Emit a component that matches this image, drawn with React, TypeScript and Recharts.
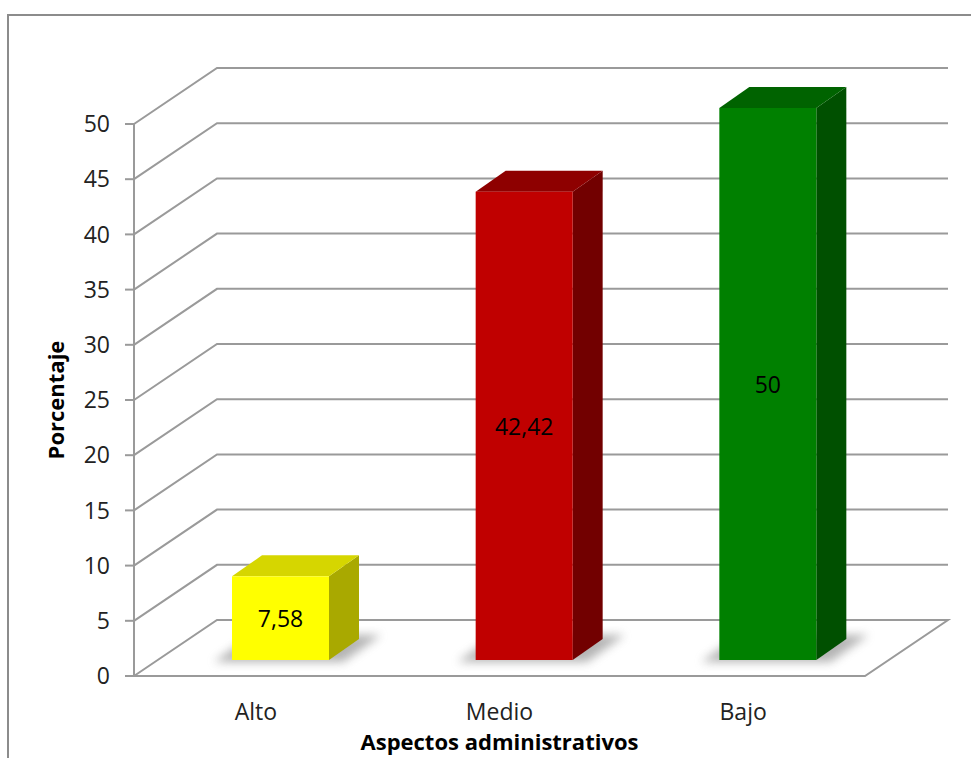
import { Bar, BarChart, CartesianGrid, Cell, LabelList, XAxis, YAxis } from "recharts";

const categories = ["Alto", "Medio", "Bajo"];
const values = [7.58, 42.42, 50];
const yTicks = [0, 5, 10, 15, 20, 25, 30, 35, 40, 45, 50];

const FRONT = ["#ffff00", "#c00000", "#008000"];
const TOP = ["#d6d600", "#8e0000", "#006300"];
const SIDE = ["#a9a900", "#720000", "#005000"];

const FONT = "'Open Sans', sans-serif";
const GRID = "#9a9a9a";
// depth of the 3D box, and where the bars sit inside it
const WALL_DX = 83;
const WALL_DY = -56;
const BAR_DX = 25;
const BAR_DY = -16;
const DEPTH_DX = 30;
const DEPTH_DY = -21;

const data = categories.map((name, i) => ({ name, value: values[i] }));

function fmt(v: number) {
  return String(v).replace(".", ",");
}

function Bar3D(props: any) {
  const { x, y, width, height, index } = props;
  const fx = x + BAR_DX;
  const fy = y + BAR_DY;
  const bottom = fy + height;
  const right = fx + width;
  return (
    <g>
      <polygon
        points={`${fx - 18},${bottom + 2} ${right + 14},${bottom + 2} ${right + DEPTH_DX + 22},${bottom + DEPTH_DY - 4} ${fx + DEPTH_DX - 10},${bottom + DEPTH_DY - 4}`}
        fill="#777"
        opacity={0.55}
        filter="url(#barShadow)"
      />
      <polygon
        points={`${right},${fy} ${right + DEPTH_DX},${fy + DEPTH_DY} ${right + DEPTH_DX},${bottom + DEPTH_DY} ${right},${bottom}`}
        fill={SIDE[index]}
      />
      <polygon
        points={`${fx},${fy} ${fx + DEPTH_DX},${fy + DEPTH_DY} ${right + DEPTH_DX},${fy + DEPTH_DY} ${right},${fy}`}
        fill={TOP[index]}
      />
      <rect x={fx} y={fy} width={width} height={height} fill={FRONT[index]} />
    </g>
  );
}

function GridLine3D(props: any) {
  const { x1, x2, y1, index } = props;
  const back = y1 + WALL_DY;
  if (index === 0) {
    // floor
    return (
      <path
        d={`M${x1},${y1} L${x1 + WALL_DX},${back} L${x2 + WALL_DX},${back} L${x2},${y1} Z`}
        fill="none"
        stroke={GRID}
        strokeWidth={2}
      />
    );
  }
  return (
    <path
      d={`M${x1},${y1} L${x1 + WALL_DX},${back} L${x2 + WALL_DX},${back}`}
      fill="none"
      stroke={GRID}
      strokeWidth={2}
    />
  );
}

function ValueLabel(props: any) {
  const { x, y, width, height, value } = props;
  return (
    <text
      x={x + BAR_DX + width / 2}
      y={y + BAR_DY + height / 2}
      textAnchor="middle"
      dominantBaseline="central"
      fontFamily={FONT}
      fontSize={23}
      fill="#000"
    >
      {fmt(value)}
    </text>
  );
}

export default function App() {
  return (
    <div style={{ position: "fixed", left: 0, top: 0, width: 971, height: 758, overflow: "hidden", background: "#fff" }}>
      <div
        style={{
          position: "absolute",
          left: 7,
          top: 14,
          width: 1000,
          height: 800,
          border: "2px solid #8c8c8c",
        }}
      />
      <div style={{ position: "absolute", left: 0, top: 0 }}>
        <BarChart
          width={971}
          height={758}
          data={data}
          margin={{ top: 124, right: 106, bottom: 42, left: 74 }}
          barSize={97}
        >
          <defs>
            <filter id="barShadow" x="-30%" y="-100%" width="160%" height="300%">
              <feGaussianBlur stdDeviation="5" />
            </filter>
          </defs>
          <CartesianGrid vertical={false} horizontal={(p: any) => <GridLine3D key={p.key} {...p} />} />
          <XAxis
            dataKey="name"
            height={40}
            tickLine={false}
            axisLine={false}
            tickMargin={22}
            tick={{ fontFamily: FONT, fontSize: 23, fill: "#222" }}
            label={{
              content: ({ viewBox }: any) => (
                <text
                  x={viewBox.x + viewBox.width / 2}
                  y={viewBox.y + 74}
                  textAnchor="middle"
                  fontFamily={FONT}
                  fontSize={22}
                  fontWeight="bold"
                  fill="#000"
                >
                  Aspectos administrativos
                </text>
              ),
            }}
          />
          <YAxis
            width={60}
            domain={[0, 50]}
            ticks={yTicks}
            interval={0}
            tickSize={9}
            tickMargin={15}
            axisLine={{ stroke: GRID, strokeWidth: 2 }}
            tickLine={{ stroke: GRID, strokeWidth: 2 }}
            tick={{ fontFamily: FONT, fontSize: 23, fill: "#222" }}
            label={{
              content: ({ viewBox }: any) => {
                const cx = viewBox.x - 19;
                const cy = viewBox.y + viewBox.height / 2;
                return (
                  <text
                    x={cx}
                    y={cy}
                    transform={`rotate(-90 ${cx} ${cy})`}
                    textAnchor="middle"
                    dominantBaseline="central"
                    fontFamily={FONT}
                    fontSize={22}
                    fontWeight="bold"
                    fill="#000"
                  >
                    Porcentaje
                  </text>
                );
              },
            }}
          />
          <Bar dataKey="value" shape={Bar3D} isAnimationActive={false}>
            {data.map((d, i) => (
              <Cell key={d.name} fill={FRONT[i]} />
            ))}
            <LabelList dataKey="value" content={ValueLabel} />
          </Bar>
        </BarChart>
      </div>
    </div>
  );
}
